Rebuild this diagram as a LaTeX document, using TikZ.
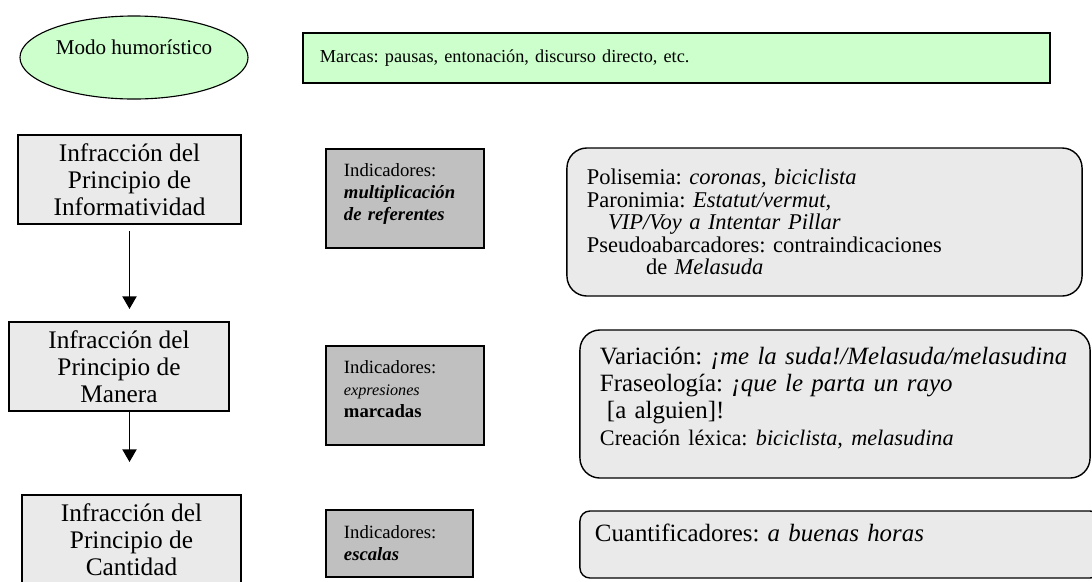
\documentclass[tikz,border=0pt]{standalone}
\usepackage{fontspec}
\setmainfont{Liberation Serif}
\usepackage{tikz}
\frenchspacing
\definecolor{humorgreen}{RGB}{204,255,204}
\definecolor{boxgray}{RGB}{234,234,234}
\definecolor{indgray}{RGB}{192,192,192}
\usetikzlibrary{positioning,arrows.meta,shapes.geometric}
\newcommand*{\titlesize}{\fontsize{18pt}{19.2pt}\selectfont}
\newcommand*{\indsize}{\fontsize{13.3pt}{15.6pt}\selectfont}
\newcommand*{\ejsize}{\fontsize{16pt}{16pt}\selectfont}
\newcommand*{\bigsize}{\fontsize{17.7pt}{19.2pt}\selectfont}
\tikzset{%
  principio/.style={draw, rectangle, line width=1.4pt, fill=boxgray, align=center,
    inner sep=0pt, font=\titlesize},% infraccion boxes on the left
  indicador/.style={draw, rectangle, line width=1.4pt, fill=indgray, align=left,
    text width=3.05cm, inner xsep=0.45cm, font=\indsize},% grey indicator boxes
  ejemplo/.style={draw, rectangle, line width=1pt, fill=boxgray, align=left,
    rounded corners=0.5cm, inner xsep=0.5cm},% example boxes on the right
  flecha/.style={line width=1.3pt, -{Triangle[width=10pt,length=9pt]}}% arrows between principles
}

\begin{document}
\begin{tikzpicture}[x=0.025cm, y=-0.025cm]
\useasboundingbox (0,0) rectangle (1092,581);
\clip (0,0) rectangle (1092,581);

\node[draw, ellipse, line width=0.8pt, fill=humorgreen, minimum width=5.7cm, minimum height=2.075cm,
  align=center, inner sep=0pt, font=\fontsize{15pt}{18pt}\selectfont] (modo) at (134,57.5)
  {Modo humorístico\\[-4pt]\mbox{}};
\node[draw, rectangle, line width=1.4pt, fill=humorgreen, minimum height=1.25cm, text width=17.825cm,
  inner xsep=0.425cm, align=left, font=\fontsize{13pt}{15pt}\selectfont] (marcas) at (676.5,58)
  {Marcas: pausas, entonación, discurso directo, etc.};

\node[principio, minimum width=5.575cm, minimum height=2.225cm] (informatividad) at (129.5,179.5)
  {Infracción del\\Principio de\\Informatividad};
\node[principio, minimum width=5.5cm, minimum height=2.225cm] (manera) at (119,366.5)
  {Infracción del\\Principio de\\Manera};
\node[principio, minimum width=5.475cm, minimum height=2.25cm] (cantidad) at (131.5,540)
  {Infracción del\\Principio de\\Cantidad};

\draw[flecha, shorten <=0.15cm, shorten >=0.3cm] (informatividad.south) -- (informatividad.south |- manera.north);
\draw[flecha, shorten >=0.8cm] (informatividad.south |- manera.south) -- (informatividad.south |- cantidad.north);

\node[indicador, minimum height=2.475cm] (indinf) at (405,198.5)
  {Indicadores:\\\textbf{\textit{multiplicación}}\\\textbf{\textit{de referentes}}\\[-6pt]\mbox{}};
\node[indicador, minimum height=2.475cm] (indman) at (405,395.5)
  {Indicadores:\\{\fontsize{11.5pt}{12pt}\selectfont\itshape expresiones}\\\textbf{marcadas}\\[-6pt]\mbox{}};
\node[indicador, text width=2.775cm, minimum height=1.675cm] (indcant) at (399.5,543.5)
  {Indicadores:\\\textbf{\textit{escalas}}};

\node[ejemplo, text width=11.875cm, minimum height=3.7cm, font=\ejsize] (ejinf) at (824.5,222)
  {Polisemia: \textit{coronas, biciclista}\\
   Paronimia: \textit{Estatut/vermut,}\\
   \hspace*{15pt}\textit{VIP/Voy a Intentar Pillar}\\
   Pseudoabarcadores: contraindicaciones\\
   \hspace*{42pt}de \textit{Melasuda}};
\node[ejemplo, text width=11.75cm, minimum height=3.7cm, font=\bigsize] (ejman) at (835,404)
  {Variación: \textit{¡me la suda!/Melasuda/melasudina}\\
   Fraseología: \textit{¡que le parta un rayo}\\
   \hspace*{5pt}[a alguien]!\\
   {\fontsize{15.8pt}{17pt}\selectfont Creación léxica: \textit{biciclista, melasudina}}\\[-9pt]\mbox{}};
\node[ejemplo, rounded corners=0.25cm, text width=12.25cm, inner xsep=0.375cm, minimum height=1.675cm,
  font=\bigsize] (ejcant) at (840,544.5)
  {Cuantificadores: \textit{a buenas horas}\\[-3pt]\mbox{}};
\end{tikzpicture}
\end{document}
